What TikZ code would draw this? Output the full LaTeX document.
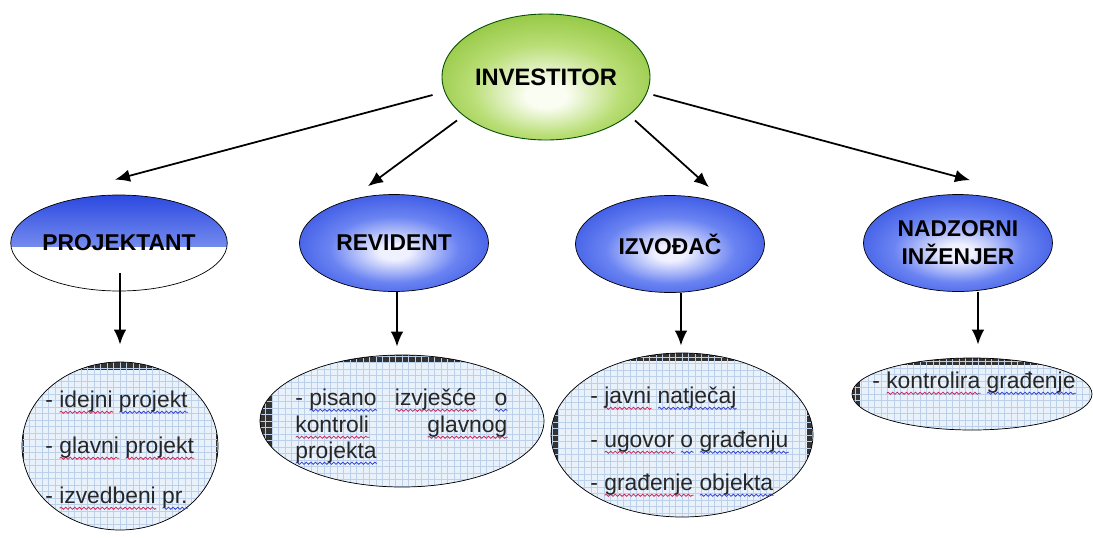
\documentclass[tikz,border=0pt]{standalone}
\usepackage{fontspec}
\setmainfont{Liberation Sans}
\usetikzlibrary{shapes.geometric,arrows.meta,decorations.pathmorphing}

\definecolor{blueedge}{HTML}{2B49E0}
\definecolor{bluehalf}{HTML}{6B84F2}
\definecolor{bluemid}{HTML}{F0F1FF}
\definecolor{bluelight}{HTML}{B4C4FA}
\definecolor{greenedge}{HTML}{86BE2E}
\definecolor{greenhalf}{HTML}{B9DE76}
\definecolor{greenmid}{HTML}{FAFDF2}
\definecolor{boxbg}{HTML}{E9F1FB}
\definecolor{boxgrid}{HTML}{BCD0EA}
\definecolor{wred}{HTML}{C8285E}
\definecolor{wblue}{HTML}{3440D0}

\pgfdeclareradialshading{rolefill}{\pgfpoint{0bp}{-5bp}}{color(0bp)=(bluemid); color(4bp)=(bluemid); color(17bp)=(bluehalf); color(33bp)=(blueedge); color(50bp)=(blueedge)}
\pgfdeclareradialshading{rootfill}{\pgfpoint{0bp}{-8bp}}{color(0bp)=(greenmid); color(5bp)=(greenmid); color(18bp)=(greenhalf); color(34bp)=(greenedge); color(50bp)=(greenedge)}

\def\pxu{0.02cm}
\newsavebox\wavebox
\newdimen\wavewd
\newcommand\wavy[2]{\sbox\wavebox{#2}\wavewd=\wd\wavebox
  \rlap{\tikz[baseline=0pt, x=1pt, y=1pt]
    \draw[#1, line width=0.45pt, decorate, decoration={snake, amplitude=0.6pt, segment length=2.6pt}]
      (0,-3) -- (\wavewd,-3);}\usebox\wavebox}
\newcommand\rw[1]{\wavy{wred}{#1}}
\newcommand\bw[1]{\wavy{wblue}{#1}}

\tikzset{
  arr/.style={-{Latex[length=0.3cm,width=0.25cm]}, line width=1pt},
  role/.style={ellipse, draw, line width=0.4pt, inner sep=0pt, align=center,
    shade, shading=rolefill, minimum width=189*\pxu, minimum height=97*\pxu,
    font=\bfseries\fontsize{13}{16}\selectfont},
  projrole/.style={ellipse, draw, line width=0.4pt, inner sep=0pt, fill=white,
    minimum width=189*\pxu, minimum height=96*\pxu,
    font=\bfseries\fontsize{13}{16}\selectfont,
    path picture={
      \shade[top color=blueedge, bottom color=bluelight]
        (path picture bounding box.north west) rectangle ([shift={(0,3)}]path picture bounding box.east);
    }},
  root/.style={ellipse, draw=black!70!green, line width=0.5pt, inner sep=0pt,
    shade, shading=rootfill, minimum width=208*\pxu, minimum height=126*\pxu,
    font=\bfseries\fontsize{13.5}{16}\selectfont},
  lowbox/.style n args={3}{ellipse, draw, line width=0.4pt, inner sep=0pt,
    path picture={
      \fill[black!80] (path picture bounding box.north west) rectangle (path picture bounding box.south east);
      \fill[boxbg] ([shift={(#1,#2)}]path picture bounding box.north west)
        rectangle ([shift={(-#3,0)}]path picture bounding box.south east);
      \draw[boxgrid, line width=0.2pt, step=0.13cm]
        (path picture bounding box.north west) grid (path picture bounding box.south east);
    }},
  item/.style={anchor=base west, inner sep=0pt, text=black!85,
    font=\fontsize{13}{15.6}\selectfont},
}

\begin{document}
\begin{tikzpicture}[x=0.02cm, y=-0.02cm]
  \useasboundingbox (0,0) rectangle (1093,538);

  % top level
  \node[root] (inv) at (546,77) {INVESTITOR};

  \node[projrole] (proj) at (119,243) {PROJEKTANT};
  \node[role] (rev) at (394,243) {REVIDENT};
  \node[role] (izv) at (670,244) {IZVOĐAČ};
  \node[role] (nad) at (958,243) {NADZORNI\\INŽENJER};

  % task boxes
  \node[lowbox={2}{8}{2}, minimum width=196*\pxu, minimum height=168*\pxu] (b1) at (120,446) {};
  \node[lowbox={12}{8}{0}, minimum width=284*\pxu, minimum height=132*\pxu] (b2) at (402,421) {};
  \node[lowbox={7}{8}{6}, minimum width=262*\pxu, minimum height=164*\pxu] (b3) at (682,435) {};
  \node[lowbox={8}{7}{0}, minimum width=240*\pxu, minimum height=72*\pxu] (b4) at (972,394) {};

  \node[item] (t1a) at (45,407) {- \rw{idejni} \bw{projekt}};
  \node[item] (t1b) at (45,453) {- \rw{glavni} \rw{projekt}};
  \node[item] (t1c) at (45,503) {- \rw{izvedbeni} \bw{pr.}};

  \node[item] (t2a) at (295,405) {\hbox to 4.24cm{- \bw{pisano}\hfill\rw{izvješće}\hfill\bw{o}}};
  \node[item] (t2b) at (295,432) {\hbox to 4.24cm{\rw{kontroli}\hfill\rw{glavnog}}};
  \node[item] (t2c) at (295,458) {\bw{projekta}};

  \node[item] (t3a) at (590,403) {- \rw{javni} \bw{natječaj}};
  \node[item] (t3b) at (590,447) {- \rw{ugovor} \bw{o} \bw{građenju}};
  \node[item] (t3c) at (590,490) {- \rw{građenje} \bw{objekta}};

  \node[item] (t4a) at (872,388) {- \rw{kontrolira} \bw{građenje}};

  % connectors
  \draw[arr] ([shift={(-9,18)}]inv.west) -- ([shift={(-4,-15)}]proj.north);
  \draw[arr] ([shift={(-89,-20)}]inv.south) -- ([shift={(-26,-8)}]rev.north);
  \draw[arr] ([shift={(89,-20)}]inv.south) -- ([shift={(39,-8)}]izv.north);
  \draw[arr] ([shift={(3,18)}]inv.east) -- ([shift={(12,-14)}]nad.north);

  \draw[arr] ([shift={(1,30)}]proj.center) -- ([shift={(0,-17)}]b1.north);
  \draw[arr] ([shift={(3,0)}]rev.south) -- ([shift={(-5,-8)}]b2.north);
  \draw[arr] ([shift={(11,0)}]izv.south) -- ([shift={(-1,-7)}]b3.north);
  \draw[arr] ([shift={(20,0)}]nad.south) -- ([shift={(6,-13)}]b4.north);
\end{tikzpicture}
\end{document}
